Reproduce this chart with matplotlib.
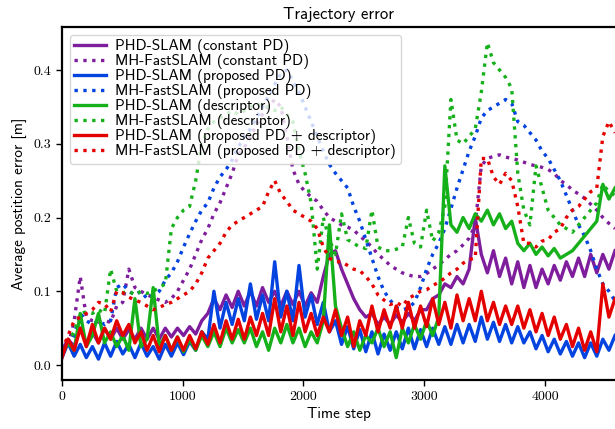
import matplotlib
matplotlib.use("Agg")
import matplotlib.pyplot as plt
import numpy as np

# average position error per time step, sampled every ~50 steps
phd_const = [0.02, 0.035, 0.025, 0.05, 0.03, 0.045, 0.03, 0.05, 0.035, 0.05,
             0.035, 0.048, 0.035, 0.05, 0.035, 0.05, 0.035, 0.05, 0.038, 0.05,
             0.04, 0.052, 0.042, 0.06, 0.07, 0.09, 0.075, 0.095, 0.078, 0.1,
             0.08, 0.1, 0.08, 0.105, 0.085, 0.1, 0.08, 0.1, 0.082, 0.1,
             0.08, 0.098, 0.085, 0.12, 0.15, 0.155, 0.13, 0.11, 0.09, 0.075,
             0.065, 0.07, 0.055, 0.065, 0.055, 0.068, 0.058, 0.07, 0.06, 0.075,
             0.075, 0.09, 0.095, 0.11, 0.105, 0.12, 0.11, 0.13, 0.2, 0.15,
             0.125, 0.155, 0.12, 0.145, 0.11, 0.14, 0.105, 0.135, 0.105, 0.13,
             0.11, 0.135, 0.115, 0.14, 0.12, 0.145, 0.12, 0.15, 0.125, 0.15,
             0.13, 0.155]
mh_const = [0.02, 0.025, 0.06, 0.12, 0.065, 0.06, 0.058, 0.06, 0.058, 0.08,
            0.085, 0.13, 0.105, 0.1, 0.095, 0.092, 0.088, 0.085, 0.09, 0.1,
            0.115, 0.13, 0.15, 0.17, 0.185, 0.205, 0.22, 0.24, 0.26, 0.285,
            0.295, 0.31, 0.325, 0.34, 0.35, 0.36, 0.35, 0.31, 0.265, 0.245,
            0.235, 0.228, 0.222, 0.21, 0.2, 0.195, 0.19, 0.187, 0.183, 0.175,
            0.168, 0.16, 0.15, 0.143, 0.135, 0.13, 0.125, 0.122, 0.12, 0.12,
            0.124, 0.13, 0.136, 0.143, 0.15, 0.155, 0.163, 0.172, 0.19, 0.27,
            0.28, 0.283, 0.285, 0.282, 0.28, 0.278, 0.275, 0.272, 0.27, 0.268,
            0.265, 0.26, 0.25, 0.245, 0.237, 0.232, 0.226, 0.218, 0.21, 0.2,
            0.192, 0.185]
phd_prop = [0.01, 0.03, 0.012, 0.028, 0.01, 0.025, 0.008, 0.03, 0.012, 0.032,
            0.015, 0.028, 0.01, 0.03, 0.012, 0.025, 0.008, 0.028, 0.012, 0.03,
            0.014, 0.032, 0.02, 0.045, 0.035, 0.1, 0.05, 0.085, 0.055, 0.09,
            0.06, 0.11, 0.062, 0.095, 0.06, 0.14, 0.065, 0.1, 0.06, 0.135,
            0.065, 0.095, 0.055, 0.085, 0.045, 0.06, 0.028, 0.052, 0.022, 0.048,
            0.018, 0.045, 0.015, 0.042, 0.02, 0.045, 0.022, 0.05, 0.022, 0.048,
            0.025, 0.05, 0.028, 0.052, 0.028, 0.055, 0.03, 0.055, 0.032, 0.065,
            0.035, 0.058, 0.032, 0.055, 0.03, 0.052, 0.03, 0.045, 0.022, 0.04,
            0.018, 0.035, 0.015, 0.032, 0.012, 0.03, 0.01, 0.03, 0.012, 0.035,
            0.02, 0.04]
mh_prop = [0.02, 0.025, 0.04, 0.07, 0.06, 0.055, 0.06, 0.055, 0.06, 0.105,
           0.11, 0.1, 0.095, 0.1, 0.09, 0.095, 0.1, 0.115, 0.125, 0.14,
           0.16, 0.178, 0.195, 0.21, 0.22, 0.24, 0.255, 0.265, 0.278, 0.295,
           0.31, 0.32, 0.335, 0.35, 0.365, 0.38, 0.395, 0.4, 0.385, 0.37,
           0.35, 0.33, 0.31, 0.29, 0.272, 0.26, 0.25, 0.24, 0.215, 0.195,
           0.17, 0.145, 0.12, 0.1, 0.088, 0.078, 0.075, 0.077, 0.085, 0.105,
           0.13, 0.15, 0.165, 0.185, 0.212, 0.24, 0.265, 0.29, 0.31, 0.335,
           0.345, 0.35, 0.355, 0.36, 0.355, 0.33, 0.325, 0.315, 0.305, 0.29,
           0.28, 0.265, 0.25, 0.23, 0.21, 0.19, 0.175, 0.155, 0.13, 0.11,
           0.1, 0.087]
phd_desc = [0.015, 0.03, 0.02, 0.07, 0.025, 0.04, 0.07, 0.03, 0.045, 0.025,
            0.04, 0.02, 0.09, 0.025, 0.035, 0.105, 0.025, 0.04, 0.02, 0.038,
            0.018, 0.035, 0.02, 0.04, 0.025, 0.045, 0.025, 0.05, 0.03, 0.048,
            0.03, 0.05, 0.025, 0.045, 0.02, 0.05, 0.03, 0.055, 0.03, 0.05,
            0.025, 0.045, 0.03, 0.06, 0.19, 0.08, 0.05, 0.025, 0.045, 0.02,
            0.04, 0.03, 0.05, 0.025, 0.045, 0.01, 0.05, 0.03, 0.055, 0.035,
            0.06, 0.04, 0.065, 0.27, 0.19, 0.18, 0.2, 0.185, 0.205, 0.195,
            0.21, 0.19, 0.205, 0.185, 0.195, 0.165, 0.155, 0.165, 0.15, 0.16,
            0.148, 0.158, 0.145, 0.15, 0.155, 0.165, 0.175, 0.185, 0.195, 0.245,
            0.225, 0.24]
mh_desc = [0.02, 0.03, 0.045, 0.07, 0.072, 0.07, 0.075, 0.07, 0.13, 0.1,
           0.098, 0.1, 0.095, 0.1, 0.097, 0.1, 0.105, 0.11, 0.185, 0.2,
           0.21, 0.215, 0.25, 0.3, 0.32, 0.33, 0.335, 0.34, 0.345, 0.34,
           0.345, 0.35, 0.355, 0.35, 0.35, 0.345, 0.35, 0.34, 0.33, 0.29,
           0.26, 0.22, 0.13, 0.2, 0.17, 0.15, 0.205, 0.17, 0.165, 0.16,
           0.158, 0.21, 0.16, 0.155, 0.155, 0.157, 0.16, 0.2, 0.165, 0.16,
           0.21, 0.168, 0.18, 0.215, 0.36, 0.305, 0.3, 0.31, 0.32, 0.37,
           0.437, 0.41, 0.4, 0.39, 0.375, 0.26, 0.21, 0.19, 0.27, 0.24,
           0.21, 0.2, 0.19, 0.185, 0.18, 0.19, 0.2, 0.21, 0.22, 0.245,
           0.235, 0.23]
phd_both = [0.01, 0.035, 0.02, 0.05, 0.025, 0.055, 0.03, 0.05, 0.035, 0.06,
            0.04, 0.055, 0.03, 0.045, 0.02, 0.04, 0.018, 0.04, 0.02, 0.038,
            0.02, 0.04, 0.022, 0.045, 0.028, 0.055, 0.03, 0.06, 0.035, 0.062,
            0.035, 0.065, 0.04, 0.07, 0.04, 0.09, 0.045, 0.08, 0.04, 0.085,
            0.045, 0.07, 0.04, 0.065, 0.045, 0.075, 0.04, 0.065, 0.025, 0.06,
            0.04, 0.08, 0.045, 0.075, 0.05, 0.08, 0.05, 0.085, 0.05, 0.08,
            0.052, 0.09, 0.055, 0.085, 0.05, 0.095, 0.06, 0.09, 0.06, 0.1,
            0.06, 0.085, 0.055, 0.08, 0.055, 0.08, 0.05, 0.075, 0.045, 0.07,
            0.04, 0.065, 0.035, 0.055, 0.025, 0.05, 0.02, 0.045, 0.018, 0.11,
            0.065, 0.09]
mh_both = [0.02, 0.04, 0.06, 0.065, 0.07, 0.075, 0.085, 0.083, 0.072, 0.1,
           0.098, 0.092, 0.088, 0.085, 0.08, 0.075, 0.078, 0.082, 0.085, 0.09,
           0.095, 0.1, 0.11, 0.125, 0.145, 0.155, 0.165, 0.18, 0.19, 0.195,
           0.2, 0.205, 0.21, 0.215, 0.235, 0.25, 0.232, 0.222, 0.21, 0.205,
           0.2, 0.195, 0.185, 0.16, 0.145, 0.14, 0.14, 0.135, 0.13, 0.128,
           0.12, 0.11, 0.095, 0.088, 0.082, 0.085, 0.08, 0.09, 0.095, 0.1,
           0.102, 0.108, 0.112, 0.118, 0.125, 0.13, 0.138, 0.143, 0.145, 0.28,
           0.28, 0.255, 0.245, 0.26, 0.25, 0.215, 0.165, 0.165, 0.16, 0.168,
           0.17, 0.18, 0.185, 0.2, 0.21, 0.215, 0.225, 0.235, 0.24, 0.31,
           0.33, 0.315]

last_step = 4580
steps = np.linspace(0, last_step, len(phd_const))

purple = "#7e1e9c"
blue = "#0343df"
green = "#15b01a"
red = "#e50000"

series = [
    (phd_const, purple, "-", "PHD-SLAM (constant PD)"),
    (mh_const, purple, ":", "MH-FastSLAM (constant PD)"),
    (phd_prop, blue, "-", "PHD-SLAM (proposed PD)"),
    (mh_prop, blue, ":", "MH-FastSLAM (proposed PD)"),
    (phd_desc, green, "-", "PHD-SLAM (descriptor)"),
    (mh_desc, green, ":", "MH-FastSLAM (descriptor)"),
    (phd_both, red, "-", "PHD-SLAM (proposed PD + descriptor)"),
    (mh_both, red, ":", "MH-FastSLAM (proposed PD + descriptor)"),
]

sans = "cmss10"
serif = "cmr10"

fig = plt.figure(figsize=(6.15, 4.29), dpi=100)
ax = fig.add_axes([62 / 615, 49 / 429, 553 / 615, 353 / 429])

for vals, col, ls, lab in series:
    ax.plot(steps, vals, color=col, linestyle=ls, linewidth=2.4, label=lab)

ax.set_xlim(0, last_step)
ax.set_ylim(-0.0203, 0.4583)
ax.set_xticks([0, 1000, 2000, 3000, 4000])
ax.set_yticks([0.0, 0.1, 0.2, 0.3, 0.4])
ax.set_yticklabels(["0.0", "0.1", "0.2", "0.3", "0.4"])
for lbl in ax.get_xticklabels() + ax.get_yticklabels():
    lbl.set_fontfamily(serif)
    lbl.set_fontsize(10)

for side in ["left", "bottom", "top"]:
    ax.spines[side].set_linewidth(1.6)
ax.spines["right"].set_visible(False)
ax.tick_params(direction="out", length=4, width=1)

ax.set_title("Trajectory error", fontfamily=sans, fontsize=12, pad=6)
ax.set_xlabel("Time step", fontfamily=sans, fontsize=11, labelpad=3)
ax.set_ylabel("Average postition error [m]", fontfamily=sans, fontsize=11,
              labelpad=5)

leg = ax.legend(loc="upper left", prop={"family": sans, "size": 11},
                labelspacing=0.0, handlelength=2.1, borderpad=0.3,
                borderaxespad=0.5, handletextpad=0.6)
leg.get_frame().set_edgecolor("0.8")

fig.savefig("out.png", dpi=100)
